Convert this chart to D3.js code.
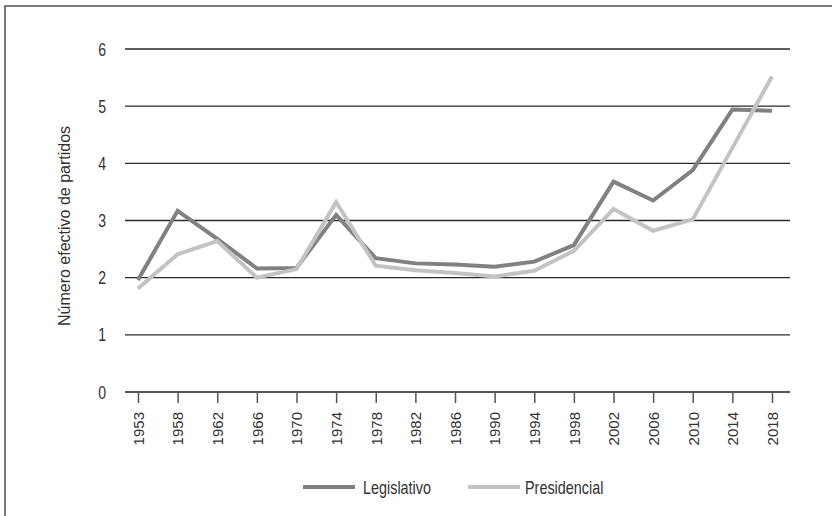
<!DOCTYPE html>
<html><head><meta charset="utf-8">
<script src="https://cdn.jsdelivr.net/npm/d3@7"></script>
<style>
body{margin:0;background:#fff;}
svg{display:block;}
.reg{font-family:"Liberation Sans","Arial",sans-serif;}
</style></head>
<body>
<svg id="c" width="832" height="516"></svg>
<script>
const years = ["1953","1958","1962","1966","1970","1974","1978","1982","1986","1990","1994","1998","2002","2006","2010","2014","2018"];
const legislativo = [1.96,3.17,2.68,2.16,2.17,3.10,2.34,2.25,2.23,2.19,2.28,2.57,3.68,3.35,3.88,4.94,4.92];
const presidencial = [1.81,2.41,2.64,2.00,2.15,3.32,2.21,2.13,2.08,2.02,2.12,2.47,3.20,2.82,3.02,4.27,5.52];
const yTicks = [0,1,2,3,4,5,6];
const seriesNames = ["Legislativo","Presidencial"];
const colors = ["#818181","#c3c3c3"];
const textColor = "#333";

const svg = d3.select("#c");
// frame (left and top only)
svg.append("path").attr("d","M5,516V6H832").attr("fill","none").attr("stroke","#555").attr("stroke-width",1.6);

const x = d3.scalePoint().domain(years).range([138,772]);
const y = d3.scaleLinear().domain([0,6]).range([392,49]);
const gx0 = 125, gx1 = 790;

// gridlines
svg.append("g").selectAll("line").data(yTicks.filter(d=>d>0)).join("line")
  .attr("x1",gx0).attr("x2",gx1).attr("y1",d=>y(d)).attr("y2",d=>y(d))
  .attr("stroke","#2a2a2a").attr("stroke-width",1.4);

// y labels (condensed)
svg.append("g").selectAll("text").data(yTicks).join("text")
  .attr("class","reg").attr("transform",d=>`translate(106,${y(d)+6.5}) scale(0.78,1)`)
  .attr("text-anchor","end").attr("font-size",18).attr("fill",textColor).text(d=>d);

// x axis
const xAxis = d3.axisBottom(x).tickSize(11).tickSizeOuter(0);
const gX = svg.append("g").attr("transform","translate(0,392)").call(xAxis);
gX.select(".domain").remove();
gX.append("line").attr("x1",gx0).attr("x2",gx1).attr("stroke","#555").attr("stroke-width",2);
gX.selectAll(".tick line").attr("stroke","#555").attr("stroke-width",1.5);
gX.selectAll(".tick text").attr("class","reg").attr("font-size",15).attr("fill",textColor)
  .attr("transform","rotate(-90)").attr("text-anchor","end").attr("x",-20).attr("y",0).attr("dy","0.35em");

// y title
svg.append("text").attr("class","reg").attr("font-size",16).attr("fill",textColor)
  .attr("transform","translate(70,226) rotate(-90)").attr("text-anchor","middle")
  .text("Número efectivo de partidos");

// lines
const line = d3.line().x((d,i)=>x(years[i])).y(d=>y(d));
[legislativo,presidencial].forEach((s,k)=>{
  svg.append("path").datum(s).attr("d",line).attr("fill","none")
    .attr("stroke",colors[k]).attr("stroke-width",4).attr("stroke-linejoin","miter");
});

// legend
const lg = [{x1:303,x2:355,tx:363},{x1:468,x2:520,tx:525}];
lg.forEach((p,k)=>{
  svg.append("line").attr("x1",p.x1).attr("x2",p.x2).attr("y1",487).attr("y2",487)
    .attr("stroke",colors[k]).attr("stroke-width",4);
  svg.append("text").attr("class","reg").attr("transform",`translate(${p.tx},493.5) scale(0.8,1)`)
    .attr("font-size",18).attr("fill",textColor).text(seriesNames[k]);
});
</script>
</body></html>
